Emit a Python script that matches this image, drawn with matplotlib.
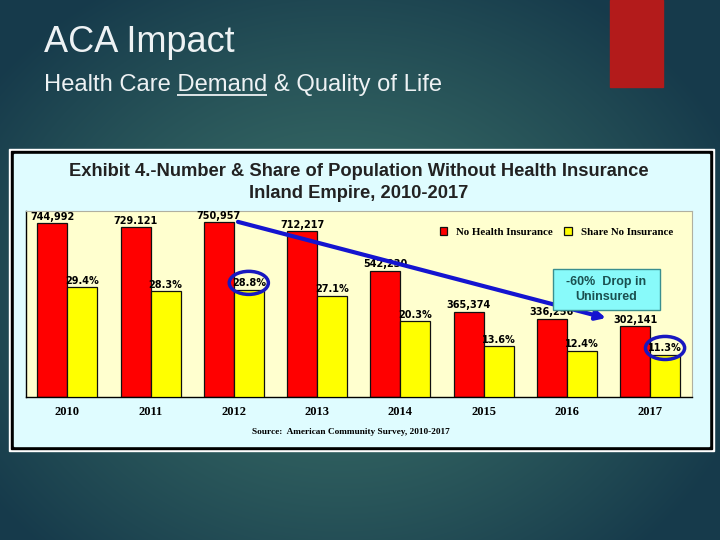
import numpy as np
import matplotlib
matplotlib.use('Agg')
import matplotlib.pyplot as plt
from matplotlib.patches import Rectangle, Ellipse

# ---- data ----
years = ['2010', '2011', '2012', '2013', '2014', '2015', '2016', '2017']
uninsured = [744992, 729121, 750957, 712217, 542230, 365374, 336256, 302141]
uninsured_labels = ['744,992', '729.121', '750,957', '712,217', '542,230',
                    '365,374', '336,256', '302,141']
share = [29.4, 28.3, 28.8, 27.1, 20.3, 13.6, 12.4, 11.3]
share_labels = ['29.4%', '28.3%', '28.8%', '27.1%', '20.3%', '13.6%', '12.4%', '11.3%']
highlight = [2, 7]

W, H = 720, 540
fig = plt.figure(figsize=(7.2, 5.4), dpi=100)


def px(x0, y0, x1, y1):
    return [x0 / W, 1 - y1 / H, (x1 - x0) / W, (y1 - y0) / H]


# ---- slide background ----
bg = fig.add_axes([0, 0, 1, 1])
bg.axis('off')
yy, xx = np.mgrid[0:H, 0:W]
r = np.sqrt(((xx - 340) / 430.0) ** 2 + ((yy - 290) / 360.0) ** 2)
t = np.clip(r, 0, 1) ** 1.3
light = np.array([0x3b, 0x70, 0x68]) / 255.0
dark = np.array([0x16, 0x3a, 0x4b]) / 255.0
img = light * (1 - t[..., None]) + dark * t[..., None]
bg.imshow(img, extent=[0, W, H, 0], aspect='auto', interpolation='bilinear')
bg.set_xlim(0, W)
bg.set_ylim(H, 0)

bg.add_patch(Rectangle((610, 0), 53, 87, color='#b31b1b'))

bg.text(44, 51.7, 'ACA Impact', fontsize=26, color='#eef2f4',
        family='Liberation Sans', va='baseline', ha='left')
SUB_FS = 17.1
st = bg.text(44, 91, 'Health Care Demand & Quality of Life', fontsize=SUB_FS,
             color='#eef2f4', family='Liberation Sans', va='baseline', ha='left')
fig.canvas.draw()
rend = fig.canvas.get_renderer()
tmp1 = bg.text(44, 91, 'Health Care Demand', fontsize=SUB_FS,
               family='Liberation Sans', va='baseline', ha='left')
tmp2 = bg.text(44, 91, 'Demand', fontsize=SUB_FS,
               family='Liberation Sans', va='baseline', ha='left')
w1 = tmp1.get_window_extent(rend).width
w2 = tmp2.get_window_extent(rend).width
tmp1.remove()
tmp2.remove()
x_end = 44 + w1
x_start = x_end - w2
bg.plot([x_start, x_end], [94.8, 94.8], color='#eef2f4', lw=1.3,
        solid_capstyle='butt')

# ---- chart frame ----
bg.add_patch(Rectangle((9, 149), 704.5, 301.5, color='white'))
bg.add_patch(Rectangle((11, 151), 700.5, 297.5, color='black'))
bg.add_patch(Rectangle((14, 154), 695, 291.5, color='#dffcff'))

fig.text(358.5 / W, 1 - 171.5 / H,
         'Exhibit 4.-Number & Share of Population Without Health Insurance',
         ha='center', va='center', fontsize=13.2, weight='bold',
         family='Liberation Sans', color='#222222')
fig.text(358.5 / W, 1 - 193 / H, 'Inland Empire, 2010-2017',
         ha='center', va='center', fontsize=13.2, weight='bold',
         family='Liberation Sans', color='#222222')

# ---- plot ----
ax = fig.add_axes(px(25.7, 210.7, 691.7, 396.7))
ax.set_facecolor('#ffffcf')
ax2 = ax.twinx()
x = np.arange(len(years))
bw = 0.36
red_bars = ax.bar(x - 0.18, uninsured, bw, color='#ff0000', edgecolor='#111111',
                  lw=0.9, label='No Health Insurance')
yel_bars = ax2.bar(x + 0.18, share, bw, color='#ffff00', edgecolor='#111111',
                   lw=0.9, label='Share No Insurance')
ax.set_xlim(-0.5, 7.5)
ax.set_ylim(0, 800000)
ax2.set_ylim(0, 50)
ax.set_yticks([])
ax2.set_yticks([])
ax.set_xticks(x)
ax.set_xticklabels(years, fontsize=9, weight='bold', family='Liberation Serif')
ax.tick_params(axis='x', length=0, pad=7)

for s in ['left', 'bottom']:
    ax.spines[s].set_color('black')
    ax.spines[s].set_linewidth(1.0)
for s in ['top', 'right']:
    ax.spines[s].set_color('#b0b0a0')
    ax.spines[s].set_linewidth(0.8)
for s in ax2.spines.values():
    s.set_visible(False)

for xi, v, lab in zip(x, uninsured, uninsured_labels):
    ax.annotate(lab, (xi - 0.18, v), xytext=(0, 1), textcoords='offset points',
                ha='center', va='bottom', fontsize=7, weight='bold',
                family='DejaVu Sans', color='black')
for xi, v, lab in zip(x, share, share_labels):
    ax2.annotate(lab, (xi + 0.18, v), xytext=(0, 1), textcoords='offset points',
                 ha='center', va='bottom', fontsize=7, weight='bold',
                 family='DejaVu Sans', color='black')

leg = ax.legend(handles=[red_bars, yel_bars], ncol=2, loc='center right',
                bbox_to_anchor=(0.972, 0.885), frameon=False, borderpad=0,
                borderaxespad=0, handlelength=0.7, handleheight=0.7,
                handletextpad=0.85, columnspacing=1.0,
                prop={'family': 'Liberation Serif', 'weight': 'bold', 'size': 7.8})

# trend arrow
ax2.annotate('', xy=(6.47, 338000), xytext=(2.05, 752000),
             xycoords=ax.transData, textcoords=ax.transData,
             arrowprops=dict(arrowstyle='-|>', color='#1414d0', lw=3,
                             mutation_scale=14, shrinkA=0, shrinkB=0))

# highlight ellipses
for i in highlight:
    ax2.add_patch(Ellipse((x[i] + 0.18, share[i] + 1.8), 0.47, 6.2, fill=False,
                          edgecolor='#1818c0', lw=2.5, zorder=5))

# annotation box
box = Rectangle((552.7 / W, 1 - 310 / H), 107 / W, 41 / H,
                transform=fig.transFigure, facecolor='#88fafa',
                edgecolor='#3a8f8f', lw=1, zorder=3)
fig.add_artist(box)
fig.text(606.4 / W, 1 - 289.5 / H, '-60%  Drop in\nUninsured', ha='center',
         va='center', fontsize=9, weight='bold', family='Liberation Sans',
         color='#1a5050', linespacing=1.28, zorder=4)

fig.text(350.7 / W, 1 - 432 / H, 'Source:  American Community Survey, 2010-2017',
         ha='center', va='center', fontsize=6.7, weight='bold',
         family='Liberation Serif', color='black')

fig.savefig('out.png', dpi=100)
